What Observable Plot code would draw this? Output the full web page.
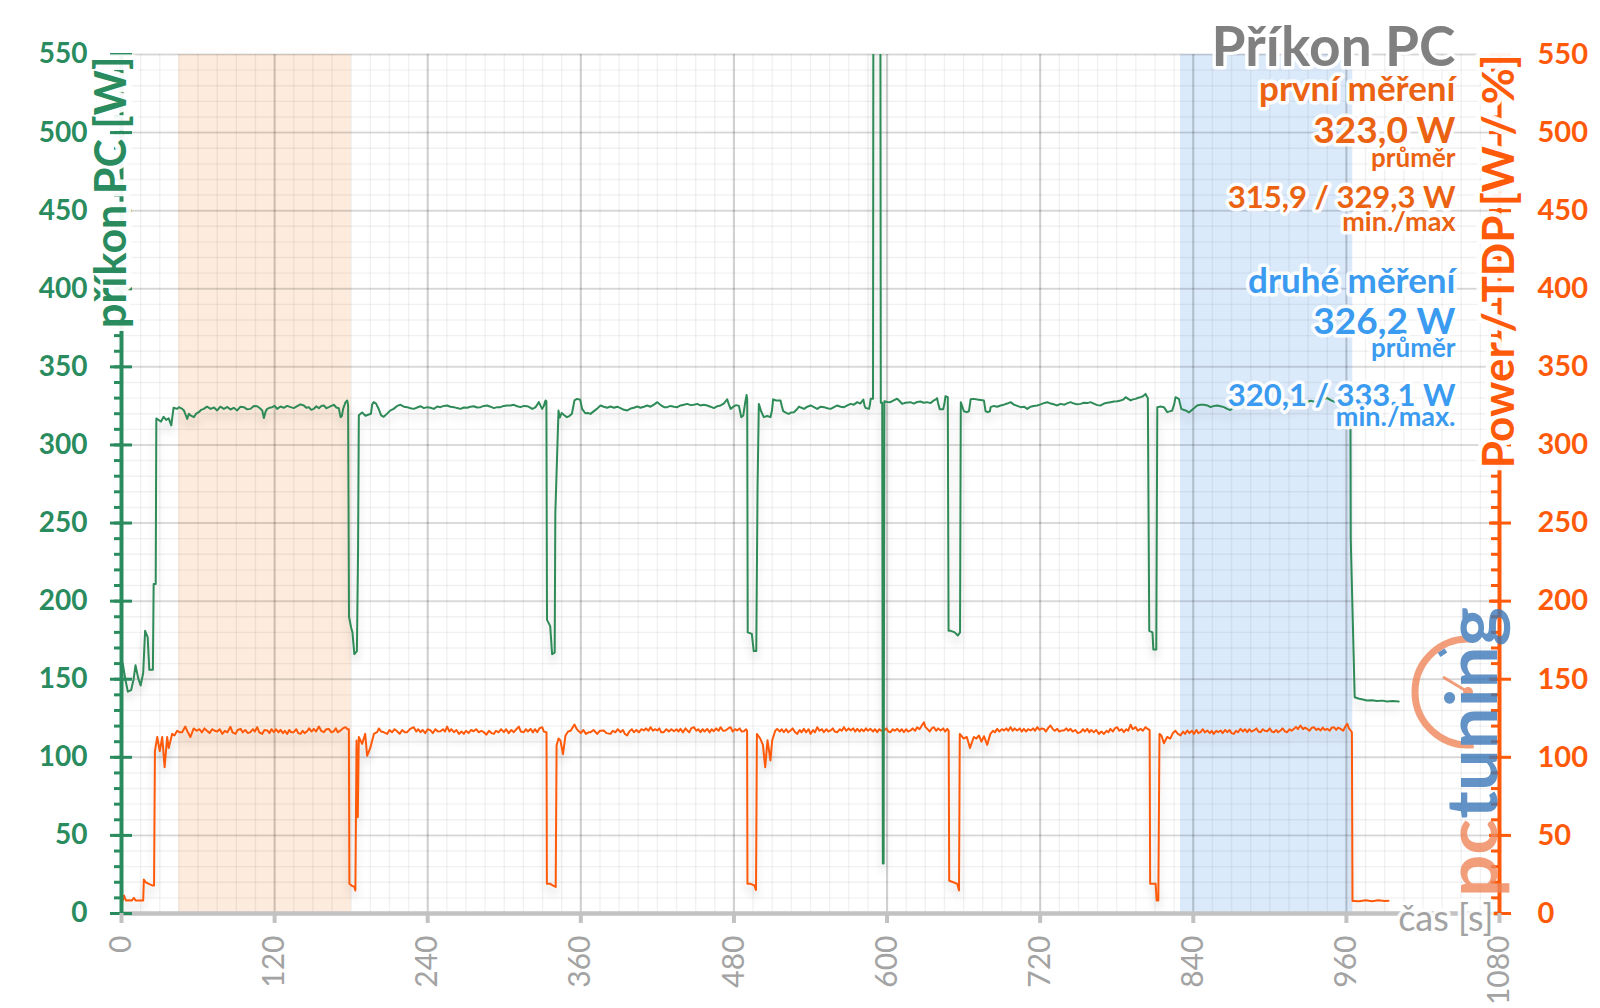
<!DOCTYPE html>
<html><head><meta charset="utf-8">
<script src="https://cdn.jsdelivr.net/npm/d3@7"></script>
<script src="https://cdn.jsdelivr.net/npm/@observablehq/plot@0.6"></script>
<style>html,body{margin:0;padding:0;background:#fff}</style>
</head><body><div id="chart"></div>
<script>
// ---------- data ----------
const xTicks = [0, 120, 240, 360, 480, 600, 720, 840, 960, 1080];
const yTicks = [0, 50, 100, 150, 200, 250, 300, 350, 400, 450, 500, 550];
const shadeFirst = {start: 45, end: 180};
const shadeSecond = {start: 830, end: 965};
const chartTitle = "Příkon PC";
const statsFirst = ["první měření", "323,0 W", "průměr", "315,9 / 329,3 W", "min./max"];
const statsSecond = ["druhé měření", "326,2 W", "průměr", "320,1 / 333,1 W", "min./max."];
const leftTitle = "příkon PC [W]";
const rightTitle = "Power / TDP [W / %]";
const xTitle = "čas [s]";

// PC power (green), [time s, W]
const pcPower = [
[0,149],[1,160],[3,150],[5,142],[7.5,143],[9.5,150],[11,159],[13,151],[15,146],[17,154],[18.5,181],[20.5,177],[21.8,156],[24.6,156],[25.2,211],[26.8,211],[27.3,317],[29,316],[31,315],[33,318],[35,316],[37,317],[39,312.5],[40.8,323.8],[43.6,323.1],[45,324.2],[47.6,323.1],[48.9,322.1],[51.5,316.7],[52.8,320],[54.1,318.9],[56.7,317.8],[58.5,320],[60.6,321],[62.5,322.5],[64.5,323.1],[67,324.5],[69.8,323.1],[72.5,324],[75,322.1],[77.5,324.5],[80.2,323.1],[83,324.3],[85.4,322.7],[88,323.8],[90.7,322.1],[93.3,324.5],[95.9,324.2],[98.5,322.8],[101.1,323.1],[103.7,325],[106.3,324.8],[108.5,323.5],[110.3,322.1],[111.6,317.2],[113,321.5],[114.2,323.1],[116,323.8],[118.1,324.2],[120,325],[122,323.1],[124.6,324.6],[127.2,323.8],[129.8,325],[132.5,324.2],[135,323.6],[137.7,324.8],[140.3,326],[142.9,325.3],[144.8,323.8],[146.8,324.2],[148.7,322.5],[150.7,323.1],[152.7,324.8],[154.7,323.5],[156.6,325],[158.6,325.3],[160.5,323.5],[162.5,324.2],[164.5,325],[166.4,325.7],[168.4,324],[170.3,323.5],[171.7,317.8],[172.7,318.5],[173.7,323.1],[175.6,327.4],[176.9,328.5],[177.6,325.5],[178.3,190],[180,183],[181,180],[182.5,166],[184.5,168],[185.4,232],[186,319],[188.6,320.8],[191.2,318.7],[193.8,319.5],[195.5,320],[196.5,326],[197.7,327.4],[199.5,326.5],[201.6,323],[203.5,319],[205.5,318],[208,319.9],[210.5,322],[213.3,323.1],[216,325],[218.7,325.7],[221.3,324.5],[223.9,324.2],[226.5,323.5],[229.1,323.1],[231.7,324],[234.3,324.8],[237,323.6],[239.6,324.2],[242.2,323.8],[244.8,323.1],[247.4,324.6],[250,324.2],[252.6,325],[255.2,325.3],[257.8,324.5],[260.5,324.2],[263,323.6],[265.7,323.1],[268.3,324],[270.9,323.8],[273.5,324.5],[276.1,324.8],[278.7,324],[281.4,324.2],[284,325],[286.6,325.3],[289.2,324.5],[291.8,323.6],[294.4,324.2],[297,324.2],[299.6,325],[302.3,325.3],[304.9,325.2],[307.5,325.7],[310.1,324.8],[312.7,324.2],[315.3,325],[318,324.8],[320,324],[321.9,323.1],[323.3,323.6],[324.5,324.2],[326,326],[327.1,327.4],[328.5,325],[329.7,323.1],[331,325],[332.3,328.5],[333,328],[333.5,188],[336,184],[337.5,166],[339.5,167],[340,256],[342.5,322],[343.5,317.5],[345,320.5],[347,319],[349,317.8],[351,318.5],[353,320],[355,328.5],[357,329.5],[359.5,329],[361,323.1],[363.5,320.3],[365.5,320.5],[367.6,319.9],[370,321.5],[372.6,323.1],[375.4,325.3],[378,324.5],[380.6,323.8],[383.3,324.6],[386,323.8],[388.5,324.5],[391.1,323.6],[393.8,322.5],[396.4,322.1],[399,323.3],[401.6,323.8],[404.2,324.6],[406.8,323.8],[409.4,324.5],[412,325.3],[414.6,324.5],[417.3,325.8],[420,327.4],[422.6,325.5],[425.2,324.2],[427.7,324.2],[430.3,325],[433,324.5],[435.6,324.2],[438.2,325.3],[440.8,325.8],[443.4,326.3],[446,325.5],[448.6,325.8],[451.2,326.3],[453.8,325.3],[456.4,325.7],[459,325.3],[461.6,324.5],[464.3,323.6],[467,324.8],[469.5,325.3],[472,326.5],[474.7,329.2],[476,326],[477.4,323.1],[479.5,324.5],[481.8,325.5],[483.9,325],[485.7,317.8],[487.3,318.9],[488.8,327],[489.9,332],[490.4,329],[490.8,180],[494,179],[495.5,168],[497.5,168],[498.5,273],[499.5,326.3],[501.3,321.6],[503.4,317.8],[506,318.5],[508.6,317.8],[509.8,322],[510.7,329.2],[513,328.5],[516.5,328.5],[517.5,325],[518.6,321.6],[521,320.5],[523,319.9],[525,320.8],[527,321],[529,322.5],[531,324.6],[533,323.8],[534.9,323.1],[537.5,324.5],[540.1,325.3],[542.7,324.2],[545.3,323.1],[548,324.5],[550.6,324.2],[553.2,323.5],[555.8,323.1],[558.4,324.2],[561,325.3],[563.6,324.5],[566.3,324.2],[568.9,325.3],[571.5,326.3],[574,325.8],[576.7,327.4],[579,326.5],[581.4,329.1],[582.4,325],[583.3,323.6],[585.9,323.1],[586.6,326],[587.2,329.6],[589,329.6],[589.4,700],[594.6,700],[595.1,327],[596.2,327],[596.7,32],[597.3,32],[597.9,328],[600,327.5],[602.6,327.4],[605.2,328.5],[607.9,329.6],[610,328],[611.8,326.3],[614.5,327],[618.3,327.4],[621,326.5],[623.5,327.5],[626.2,327.8],[628.8,327],[631.4,327.4],[634,326.8],[636.6,328.5],[638,329],[639.2,330],[640.2,326],[641.3,322.8],[644,322.8],[645,326.5],[645.8,331.2],[647.6,330.6],[648.2,181],[650,181],[653,180],[655.5,178],[657.2,180],[657.8,327.4],[660.2,321.6],[662.5,321],[664.2,321.6],[665.5,329.2],[668,329.5],[670.7,329.1],[673.3,328.8],[675.9,328.5],[677.2,321.6],[679,321],[680.6,321.6],[681.2,324.2],[683.8,325],[686.4,324.5],[689,325.3],[691.6,325.8],[694.2,326.5],[696.8,327.4],[699.4,325.8],[702,325],[704.7,324.2],[707.3,324.5],[709.9,323.1],[712.5,324.5],[715,325],[717.7,325.3],[720.3,326],[722.9,326.8],[725.6,327.4],[728.2,326.5],[730.8,326],[733.4,325.3],[736,326.3],[739,325.8],[741.5,326.8],[743.8,327.4],[746.5,326.5],[749,326],[751.7,326.3],[754.3,327],[757,326.8],[759.5,327.4],[762,326.5],[764.8,325.5],[767.4,325.3],[770,326.5],[772.6,327],[775.2,327.4],[777.8,327.8],[780.4,328],[783,328.5],[785,329],[787,330.6],[789,329.5],[790.9,328.5],[792.9,329.2],[794.8,329.5],[796.8,330.2],[798.7,330.6],[800.6,331.2],[802.6,332.7],[803.6,331],[804.4,330],[805.5,181],[808,180],[808.7,169],[811,169],[811.8,324.2],[814.4,324.6],[817,324.2],[819.6,321],[821.5,321.5],[823.5,322.1],[825,326],[826.1,330.6],[828.7,329.5],[830.6,323.1],[832.3,322.5],[834,322.1],[836.6,320.8],[840,323.1],[843,325.3],[845.6,325.8],[848.3,325.7],[851,325.3],[853.6,324.2],[856.2,325],[858.8,325.3],[861.4,324.8],[864,324.2],[866.6,323.1],[869,322.3],[872,324.5],[876,325.5],[880,324.8],[884,326],[888,325.2],[892,326.5],[896,325.5],[900,326.8],[904,325.8],[908,327],[912,326],[916,327.5],[920,326.5],[924,328],[928,327],[932,328.3],[936,327.5],[940,328.8],[945,330],[948,328.5],[951,327.5],[954,328.5],[957,327.8],[960,328.5],[962,327.5],[963.2,309],[963.4,240],[966.5,138.5],[970,137.5],[973,137],[976,136.4],[980,136.6],[984,136],[988,136.3],[992,135.7],[996,136],[1001,135.8]
];

// Power / TDP (orange), [time s, W]
const tdpPower = [
[0,8.3],[1,8.3],[2,11.5],[3.5,8.3],[6,8.5],[8,8.3],[9.7,10],[11,8.4],[14,8.3],[17,8.3],[17.5,21.8],[19,20],[21.4,19],[24,18],[25.5,18],[26.2,104],[28,113],[30,104],[31.9,113],[33.8,93.7],[35.8,113],[37,106],[39.7,115],[41.5,114],[43.6,117],[45.5,116],[47.5,116],[50,119.7],[52,116],[54,113],[56.6,118.5],
[59,117],[61,118],[63,116],[65,118.5],[67,117],[69,115.5],[71,118],[73,117],[75,116.5],[77,118],[79,115],[81,117],[83,116],[85.4,119.5],[87,116],[89.4,115],[91,117.5],[93.3,118.2],[95,116],[97,117.5],[99,115.5],[101,116.1],[103,118],[104.5,116.5],[106.3,119.3],[108,116],[110.3,115],[112,117.5],[114.2,117.2],[116,115.5],[117.5,118],[119.4,116.1],[121,118],[123,116],[124.6,117.6],[126.5,115.5],[128,117],[129.8,115],[131.5,117.5],[133,116],[135,116.1],[137,118],[138.5,115.5],[140.3,115],[142,117],[143.5,115.5],[145.5,116.7],[147,118.5],[149,116.5],[150.7,118.2],[152.5,116.5],[154.7,119.7],[156.5,117],[158.6,116.1],[160.5,118],[162.5,118.2],[164.5,116],[166.4,116.7],[168,118.5],[169.5,116],[171.7,117.2],[173.5,118.5],[175.6,119.3],[177,118],
[178.2,118],[178.6,19],[180.7,17.7],[182.5,17],[183.3,14.7],[184.2,110.8],[185.2,61.7],[186,113],[188.6,108.6],[191,115],[192.5,101],[195,106],[197.8,115],[200.4,116.1],[201.7,118.5],[203.5,116.5],
[205.7,116],[208.2,115],[210,117.5],[212,116],[214,118],[216,116.7],[218,115],[220,117.5],[222,116],[223.9,116.1],[226,118],[229,119.3],[231,116.5],[232.5,118],[234.3,116.1],[236,117.5],[238,115.5],[240,118],[242.2,117.2],[244,115.5],[246,118],[248,116.5],[250,116.7],[252,118],[253.5,116.5],[255.2,119.7],[257,116.5],[258.5,118],[260.5,116.1],[262.5,117.5],[264.5,115],[266.5,116.5],[268.3,115],[270,117],[272,115.5],[274,117.5],[276,116.7],[278,118],[280,116],[282,117],[284,116.1],[286,114.5],[288,117],[290,115.5],[291.8,115],[293.5,117],[295.5,116],[297.5,118],[299.7,116.1],[301.5,118],[303.5,115.5],[305.5,117.5],[307.5,116.1],[309.5,118],[311.4,119.7],[313,116.5],[315.3,116.1],[317,118],[318.5,116.5],[320.6,118.2],[322.5,116],[324,118],[325.8,116.1],[327.5,118.5],[329.7,119.3],[331,116.5],[332.5,116.1],
[333.1,116],[333.4,19],[336,19],[338,18],[340.3,17],[341,107.6],[342.5,112],[344,110.8],[346,102],[348,114],[350,116.5],[352,117],[353.5,119],[355,121],[356.5,118.5],
[358,117],[360,115.5],[362,117.5],[364,115],[366,116],[367.6,116.1],[370,117.5],[372.8,115],[375,117],[378,117.2],[380,115.5],[383.3,115],[385,117],[387,116],[389,118],[391,116.1],[393,117.5],[394.5,115],[396.3,114],[398,116.5],[400,118],[401.6,116.1],[403.5,117.5],[405.5,116],[407.5,118],[409.4,117.2],[411,118.5],[413,117],[414.6,119.3],[416.5,117],[418,118],[419.9,117.2],[421.5,118.5],[423,116],[425,116.1],[427,118],[429,116.5],[431,118],[433,116.7],[435,118],[436.5,116.5],[438.1,118.2],[440,116],[442,118.5],[443.4,117.2],[445,116],[446.5,118.5],[448.6,119.3],[450.5,117],[452,118],[453.8,116.1],[455.5,118],[457,116.5],[459,118.2],[461,116],[462.5,118],[464.3,116.7],[466,118.5],[468,117],[469.5,119.3],[471.5,117],[473.4,117.2],[475.5,118.5],[477.3,119.3],[479,116.5],[481,118],[482.5,117.2],[484.5,118.5],[486,116.5],[487.8,116.7],[489.5,118],[490.3,117],
[490.6,19],[493,19],[496,18],[497.3,15],[498,115],[499.3,113.5],[500.6,112],[502.7,108],[504.5,93.7],[506.3,111],[508.6,98],[510,111],[511.2,114],
[512.4,117],[513.9,118.2],[516,116.5],[517.5,118],[519.1,116.1],[521,118],[522.5,116],[524.4,117.2],[526,118.5],[528,116],[529.6,115],[531.5,117.5],[533,116],[534.8,118.2],[536.5,116],[538.5,118],[540,115],[542,117.5],[543.5,116],[545.3,119.3],[547,117],[549,118],[550.5,116.1],[552.5,118],[554,116.5],[555.7,117.2],[557.5,118.5],[559,116.5],[561,116.1],[563,118],[564.5,117],[566.2,119.3],[568,117],[570,118.5],[571.4,117.2],[573.5,118.5],[575,116.5],[576.6,118.2],[578.5,116.5],[580,118],[581.8,116.7],[583.5,118.5],[585,117],[587,118.2],[589,116.5],[590.5,118],[592.3,116.1],[594,118],[595.5,117],[597.5,117.2],[599.5,118.5],[601,116.5],[602.7,116.1],[604.5,118],[606,117],[608,118.2],[610,116.5],[611.5,118],[613.2,116.1],[615,118],[616.5,116.5],[618.4,117.2],[620,118.5],[622,117],[623.6,119.3],[625.5,118],[627,120],[628.9,122.5],[630,119.5],[631.5,118.2],[633.5,116.5],[635,118.5],[636.7,119.3],[638.5,117],[640,118.5],[642,117.2],[644,118.5],[645.5,116.5],[647.2,118.2],[648.3,117],
[648.7,21],[652,20],[655,19],[656.4,14.7],[657,115],[658.5,113.5],[660,112],[662.5,113],[665,106],[668,113],[670,112],[672,114],[674,110],[676,113.5],[678.5,108],[681,115],
[683,117],[684.5,116],[686.3,118.2],[688,116.5],[690,118],[691.6,117.2],[693.5,118.5],[695,117],[696.8,119.3],[698.5,117],[700,118.5],[702,117.2],[704,118.5],[705.5,116.5],[707.2,118.2],[709,116.5],[710.5,118],[712.5,117.2],[714.5,118.5],[716,117],[717.7,119.3],[719.5,117.5],[721,118.5],[722.9,118.2],[724.5,116.5],[726.5,119],[728.1,120.4],[730,118],[731.5,117],[733.4,118.2],[735,116.5],[737,117.2],[738.6,117.2],[740.5,118.5],[742,117],[743.8,118.2],[745.5,116.5],[747.5,117.5],[749.5,115.5],[751.7,116.1],[753.5,118],[755,116.5],[757,118.2],[758.5,116],[760,117.5],[762,116.1],[764,117.5],[766,115],[768,116.5],[770,115],[772,117],[773.5,116],[775,118.2],[777,116.5],[778.5,118.5],[780.4,119.3],[782,117],[784,118],[785.6,116.1],[787.5,118],[789,117],[790.9,120.9],[792.5,118],[794.8,119.3],[796.5,117],[798.7,118.2],[800.5,117],[802.6,119.3],[804.5,118],[805.8,117.5],
[806.2,19],[808,19],[810.5,19],[811.3,8.3],[812.6,8.3],[813.5,115],[815,114],[817,109],[819.5,113],[822,112],[824,115.5],[826,117],[828,115],
[830,114],[832,116.5],[833.5,115],[835.3,117.2],[837,115.5],[839,117],[840.5,115],[842.5,117.5],[844,115.5],[845.7,116.1],[847.5,118],[849,116],[851,117.2],[853,115.5],[854.5,117],[856,115],[858,117],[859.5,116],[861.4,117.2],[863,115.5],[865,117.5],[866.6,116.1],[868.5,117.5],[870,115.5],[871.8,115],[873.5,117],[875,116],[877,118.2],[879,116.5],[880.5,118],[882.3,116.1],[884,118],[885.5,116.5],[887.5,117.2],[889.5,118.5],[891,116.5],[892.8,116.1],[894.5,118],[896,117],[898,116.7],[900,118.5],[901.5,116.5],[903.2,116.1],[905,117.5],[906.5,116],[908.4,117.2],[910,118.5],[912,116.5],[913.6,116.1],[915.5,118],[917,117],[918.9,118.2],[920.5,119.5],[922,118],[924,120.4],[926,118],[927.5,119],[929.3,118.2],[931,117],[933,119],[934.5,119.3],[936.5,117.5],[938,118.5],[939.8,117.2],[941.5,119],[943,117.5],[945,118.2],[947,117],[948.5,119],[950.2,119.3],[952,117.5],[953.5,119],[955.5,118.2],[957.5,117],[959,119.5],[960.7,121.5],[962,118.5],[963.3,117.2],[964.3,116],
[964.8,8],[966,8],[970,7.9],[975,8.5],[980,7.9],[985,8.5],[990,8],[993,8.2]
];

// ---------- styles ----------
const green = "#2a8c5e", greenLine = "#2e8b57";
const orange = "#ff5a0a", textOrange = "#ea6212";
const blue = "#3a9bf0", gray = "#808080", axisGray = "#c2c2c2", tickGray = "#a3a3a3";
const minorX = d3.range(0, 1081, 15);
const minorY = d3.range(0, 551, 10);
const statSizes = [35, 37, 26, 31, 27];
const statFirstDy = [46, 88, 112, 153, 176];
const statSecondDy = [238, 279, 302, 351, 371];
const halo = {stroke: "white", strokeWidth: 7, strokeOpacity: 0.92, strokeLinejoin: "round"};
const wideHalo = {stroke: "white", strokeWidth: 11, strokeOpacity: 0.95, strokeLinejoin: "round"};

const statMarks = [];
statsFirst.forEach((s, i) => statMarks.push(Plot.text([s], {text: d => d, frameAnchor: "top-right", lineAnchor: "bottom", textAnchor: "end", dx: -44, dy: statFirstDy[i], fontSize: statSizes[i], fontWeight: "bold", fill: textOrange, ...halo})));
statsSecond.forEach((s, i) => statMarks.push(Plot.text([s], {text: d => d, frameAnchor: "top-right", lineAnchor: "bottom", textAnchor: "end", dx: -44, dy: statSecondDy[i], fontSize: statSizes[i], fontWeight: "bold", fill: blue, ...halo})));

const plot = Plot.plot({
  width: 1600, height: 1008,
  marginLeft: 121, marginRight: 101, marginTop: 54, marginBottom: 95,
  x: {domain: [0, 1080], axis: null},
  y: {domain: [0, 550], axis: null},
  style: {fontFamily: "Lato, 'Open Sans', sans-serif", background: "#fff", overflow: "visible"},
  marks: [
    Plot.rect([shadeFirst], {x1: "start", x2: "end", y1: 0, y2: 550, fill: "#fdebdd"}),
    Plot.rect([shadeSecond], {x1: "start", x2: "end", y1: 0, y2: 550, fill: "#dbeafb"}),
    Plot.ruleX(minorX, {stroke: "#000", strokeOpacity: 0.055, strokeWidth: 1.4}),
    Plot.ruleY(minorY, {stroke: "#000", strokeOpacity: 0.055, strokeWidth: 1.4}),
    Plot.ruleY(yTicks, {stroke: "#000", strokeOpacity: 0.11, strokeWidth: 2}),
    Plot.ruleX(xTicks, {stroke: "#000", strokeOpacity: 0.15, strokeWidth: 2.2}),
    Plot.line(tdpPower, {x: d => d[0], y: d => d[1], stroke: orange, strokeWidth: 2, clip: true, imageFilter: "drop-shadow(0px 7px 4px rgba(0,0,0,0.16))"}),
    Plot.line(pcPower, {x: d => d[0], y: d => d[1], stroke: greenLine, strokeWidth: 2, clip: true, imageFilter: "drop-shadow(0px 7px 4px rgba(0,0,0,0.16))"}),
    Plot.ruleY([0], {stroke: axisGray, strokeWidth: 4.5}),
    Plot.ruleX([0], {stroke: green, strokeWidth: 4}),
    Plot.ruleX([1080], {stroke: orange, strokeWidth: 4}),
    Plot.axisY(minorY, {anchor: "left", tickSize: 7, stroke: green, strokeWidth: 3, fill: "none", label: null}),
    Plot.axisY(yTicks, {anchor: "left", tickSize: 22, dx: 11, stroke: green, strokeWidth: 3, fill: "none", label: null}),
    Plot.axisY(minorY, {anchor: "right", tickSize: 9, dx: -9, stroke: orange, strokeWidth: 3, fill: "none", label: null}),
    Plot.axisY(yTicks, {anchor: "right", tickSize: 22, dx: -11, stroke: orange, strokeWidth: 3, fill: "none", label: null}),
    Plot.axisX(xTicks, {anchor: "bottom", tickSize: 10, stroke: axisGray, strokeWidth: 4, fill: "none", label: null}),
    Plot.text(yTicks, {y: d => d, text: d => String(d), frameAnchor: "left", lineAnchor: "middle", dx: -34, textAnchor: "end", fill: green, fontSize: 28, fontWeight: "bold"}),
    Plot.text(yTicks, {y: d => d, text: d => String(d), frameAnchor: "right", lineAnchor: "middle", dx: 38, textAnchor: "start", fill: orange, fontSize: 29, fontWeight: "bold"}),
    Plot.text(xTicks, {x: d => d, text: d => String(d), frameAnchor: "bottom", lineAnchor: "middle", dy: 22, rotate: -90, textAnchor: "end", fill: tickGray, fontSize: 30}),
    Plot.text([leftTitle], {text: d => d, frameAnchor: "top-left", lineAnchor: "middle", rotate: -90, textAnchor: "end", dx: -9, dy: 2, fill: green, fontSize: 43, fontWeight: "bold", ...wideHalo}),
    Plot.text([rightTitle], {text: d => d, frameAnchor: "top-right", lineAnchor: "middle", rotate: -90, textAnchor: "end", dx: 0, dy: 0, fill: orange, fontSize: 44, fontWeight: "bold", ...wideHalo}),
    Plot.text([xTitle], {text: d => d, frameAnchor: "bottom-right", lineAnchor: "bottom", textAnchor: "end", dx: -6, dy: 17, fill: tickGray, fontSize: 36, ...halo}),
    Plot.text([chartTitle], {text: d => d, frameAnchor: "top-right", lineAnchor: "bottom", textAnchor: "end", dx: -44, dy: 11, fill: gray, fontSize: 55, fontWeight: "bold", ...halo}),
    ...statMarks
  ]
});
document.getElementById("chart").appendChild(plot);

// ---------- pctuning watermark (decoration) ----------
const svg = d3.select(plot);
const logo = svg.append("g").attr("opacity", 0.8);
const cx = 1468, cy = 692, r = 53;
const a0 = -84 * Math.PI / 180, a1 = 84 * Math.PI / 180;
logo.append("path")
  .attr("d", `M${cx + r * Math.cos(a0)},${cy + r * Math.sin(a0)} A${r},${r} 0 1 0 ${cx + r * Math.cos(a1)},${cy + r * Math.sin(a1)}`)
  .attr("fill", "none").attr("stroke", "#f0865a").attr("stroke-width", 7);
logo.append("line").attr("x1", cx).attr("y1", cy).attr("x2", cx - 25).attr("y2", cy - 15)
  .attr("stroke", "#f0865a").attr("stroke-width", 3);
logo.append("circle").attr("cx", cx).attr("cy", cy).attr("r", 5).attr("fill", "#f0865a");
const ab = -128 * Math.PI / 180, ae = -118 * Math.PI / 180;
logo.append("line")
  .attr("x1", cx + (r - 6) * Math.cos(ab)).attr("y1", cy + (r - 6) * Math.sin(ab))
  .attr("x2", cx + (r - 6) * Math.cos(ae)).attr("y2", cy + (r - 6) * Math.sin(ae))
  .attr("stroke", "#3b78b8").attr("stroke-width", 5);
const lt = logo.append("text")
  .attr("transform", "translate(1497,897) rotate(-90)")
  .attr("text-anchor", "start")
  .attr("font-family", "Lato, sans-serif").attr("font-size", 70).attr("font-weight", 700)
  .attr("textLength", 290).attr("lengthAdjust", "spacingAndGlyphs");
lt.append("tspan").attr("fill", "#f0865a").text("pc");
lt.append("tspan").attr("fill", "#3b78b8").text("tuning");
</script>
</body></html>
